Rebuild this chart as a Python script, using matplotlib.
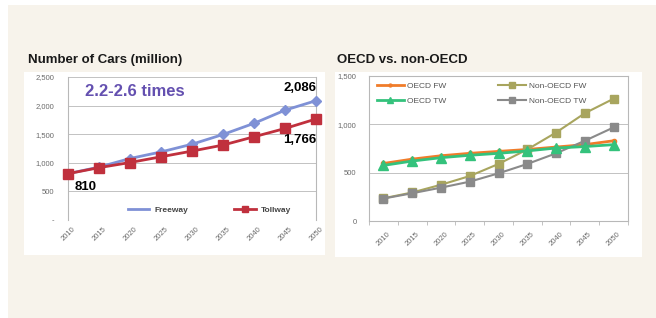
import matplotlib
matplotlib.use("Agg")
import matplotlib.pyplot as plt
from matplotlib.patches import Rectangle
from matplotlib.lines import Line2D
from matplotlib.ticker import FuncFormatter

plt.rcParams['font.family'] = ['Liberation Sans', 'DejaVu Sans']

# ===========================
# DATA
# ===========================
years = ["2010", "2015", "2020", "2025", "2030", "2035", "2040", "2045", "2050"]

freeway = [810, 925, 1075, 1190, 1325, 1495, 1690, 1920, 2086]
tollway = [810, 915, 1005, 1105, 1205, 1310, 1455, 1600, 1766]

oecd_fw = [595, 640, 675, 700, 720, 740, 765, 790, 830]
oecd_tw = [575, 620, 655, 680, 700, 725, 755, 770, 790]
non_oecd_fw = [235, 295, 375, 465, 590, 740, 915, 1115, 1265]
non_oecd_tw = [232, 287, 345, 407, 493, 590, 700, 830, 968]

W, H = 656, 318
CREAM = "#f7f3eb"
GRID = "#b8b8b8"
TICK = "#6a6a6a"


def rect(x0, y0, x1, y1):
    # pixel box (top-left origin) -> figure fraction
    return [x0 / W, (H - y1) / H, (x1 - x0) / W, (y1 - y0) / H]


fig = plt.figure(figsize=(W / 100, H / 100), dpi=100)
fig.patch.set_facecolor("white")

# background panels (behind the axes)
fig.patches.append(Rectangle((8 / W, 0), 1, (H - 5) / H, transform=fig.transFigure,
                             facecolor=CREAM, edgecolor="none", zorder=-3))
fig.patches.append(Rectangle((24 / W, (H - 255) / H), 301 / W, 183 / H, transform=fig.transFigure,
                             facecolor="white", edgecolor="none", zorder=-2))
fig.patches.append(Rectangle((335 / W, (H - 257) / H), 307 / W, 185 / H, transform=fig.transFigure,
                             facecolor="white", edgecolor="none", zorder=-2))

fig.text(28 / W, (H - 60) / H, "Number of Cars (million)", fontsize=9.5, fontweight="bold",
         va="center", ha="left", color="#1a1a1a")
fig.text(337 / W, (H - 60) / H, "OECD vs. non-OECD", fontsize=9.5, fontweight="bold",
         va="center", ha="left", color="#1a1a1a")

# --- Left chart ---
ax1 = fig.add_axes(rect(68, 77, 316, 220))
ax1.set_facecolor("none")
x = list(range(len(years)))
ax1.plot(x, freeway, color="#7f91d6", lw=2, marker="D", ms=5.5, clip_on=False, zorder=3)
ax1.plot(x, tollway, color="#c0303d", lw=2, marker="s", ms=7.5, clip_on=False, zorder=4)
ax1.set_xlim(0, 8)
ax1.set_ylim(0, 2500)
ax1.set_yticks([0, 500, 1000, 1500, 2000, 2500])
ax1.yaxis.set_major_formatter(FuncFormatter(lambda v, p: "-" if v == 0 else f"{int(v):,}"))
ax1.set_xticks(x)
ax1.set_xticklabels(years, rotation=45, ha="center", va="top")
ax1.grid(axis="y", color=GRID, lw=0.6)
ax1.set_axisbelow(True)
for s in ["top", "bottom"]:
    ax1.spines[s].set_visible(False)
for s in ["left", "right"]:
    ax1.spines[s].set_color(GRID)
    ax1.spines[s].set_linewidth(0.8)
ax1.tick_params(length=0, labelsize=5.5, colors=TICK, pad=10)
ax1.tick_params(axis="x", pad=4)

ax1.text(0.55, 2250, "2.2-2.6 times", fontsize=12, fontweight="bold", color="#6450b0",
         ha="left", va="center")
ax1.text(8, 2300, f"{freeway[-1]:,}", fontsize=9.5, fontweight="bold", ha="right", va="center")
ax1.text(8, 1400, f"{tollway[-1]:,}", fontsize=9.5, fontweight="bold", ha="right", va="center")
ax1.text(0.2, 570, f"{tollway[0]:,}", fontsize=9.5, fontweight="bold", ha="left", va="center")

h1 = [Line2D([], [], color="#7f91d6", lw=2),
      Line2D([], [], color="#c0303d", lw=2, marker="s", ms=5)]
ax1.legend(h1, ["Freeway", "Tollway"], ncol=2, loc="center", bbox_to_anchor=(0.57, 0.07),
           frameon=False, handlelength=2.6, columnspacing=5.5, handletextpad=0.6,
           prop={"weight": "bold", "size": 6}, labelcolor="#444444")

# --- Right chart ---
ax2 = fig.add_axes(rect(369, 76, 628, 221))
ax2.set_facecolor("none")
ax2.plot(x, oecd_fw, color="#f07c2a", lw=2, marker="o", ms=3, zorder=3, label="OECD FW")
ax2.plot(x, non_oecd_fw, color="#a8a55e", lw=1.5, marker="s", ms=6, zorder=3, label="Non-OECD FW")
ax2.plot(x, oecd_tw, color="#34c27c", lw=2, marker="^", ms=7, zorder=4, label="OECD TW")
ax2.plot(x, non_oecd_tw, color="#8a8a8a", lw=1.5, marker="s", ms=6, zorder=3, label="Non-OECD TW")
ax2.set_xlim(-0.5, 8.5)
ax2.set_ylim(0, 1500)
ax2.set_yticks([0, 500, 1000, 1500])
ax2.yaxis.set_major_formatter(FuncFormatter(lambda v, p: f"{int(v):,}"))
ax2.set_xticks(x)
ax2.set_xticklabels(years, rotation=45, ha="center", va="top")
ax2.set_xticks([i - 0.5 for i in range(len(years) + 1)], minor=True)
ax2.grid(axis="y", color=GRID, lw=0.6)
ax2.set_axisbelow(True)
for s in ax2.spines.values():
    s.set_color(GRID)
    s.set_linewidth(0.8)
ax2.tick_params(axis="y", length=0, labelsize=5.5, colors=TICK, pad=9)
ax2.tick_params(axis="x", which="major", length=0, labelsize=5.5, colors=TICK, pad=7)
ax2.tick_params(axis="x", which="minor", length=3, color=GRID, direction="out")

handles, labels = ax2.get_legend_handles_labels()
order = [0, 2, 1, 3]
ax2.legend([handles[i] for i in order], [labels[i] for i in order], ncol=2, loc="upper left",
           bbox_to_anchor=(0.0, 1.01), frameon=False, fontsize=6, handlelength=3.3,
           columnspacing=6.2, labelspacing=0.9, handletextpad=0.4,
           labelcolor="#555555", markerscale=0.7)

fig.savefig("out.png", dpi=100, facecolor=fig.get_facecolor())
